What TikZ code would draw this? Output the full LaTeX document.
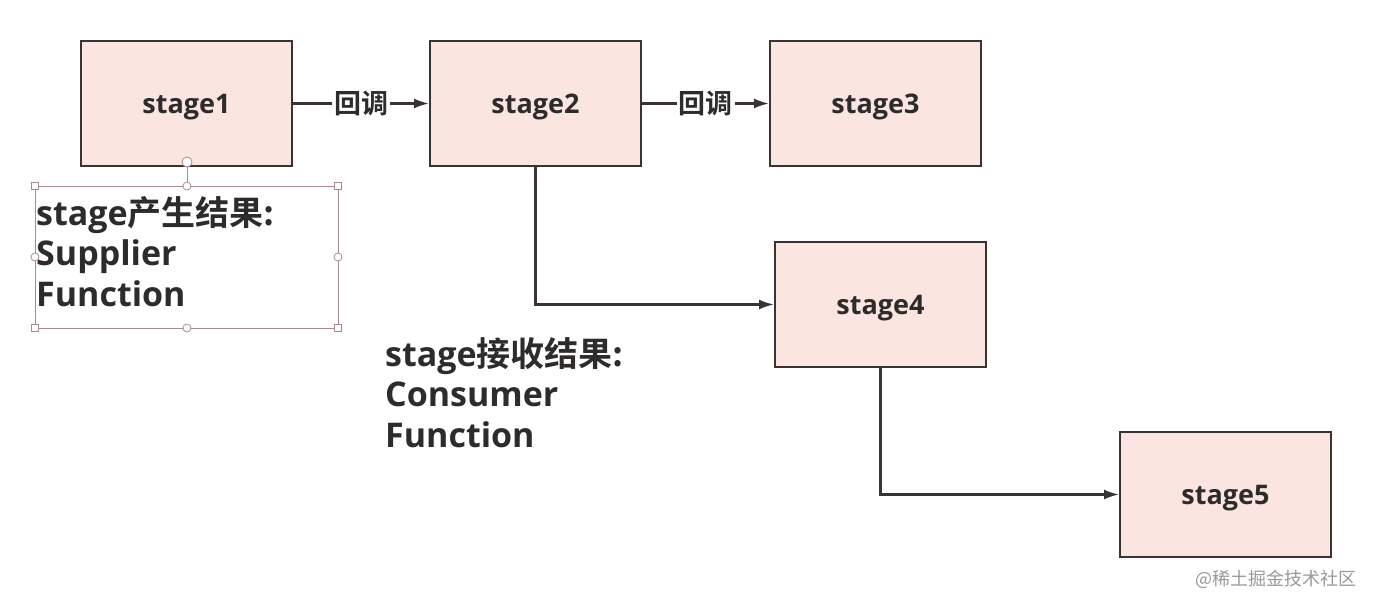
\documentclass[tikz,border=0pt]{standalone}
\usepackage{fontspec}
\setmainfont{Open Sans}
\newfontfamily\cjk{Noto Sans CJK SC}[BoldFont={Noto Sans CJK SC Bold}]
\usetikzlibrary{arrows.meta}
\definecolor{boxfill}{HTML}{FBE5E0}
\definecolor{boxline}{HTML}{3A3333}
\definecolor{txt}{HTML}{2E2B2B}
\definecolor{sel}{HTML}{A88A8E}
\tikzset{
  stagebox/.style={draw=boxline, line width=2pt, fill=boxfill, minimum width=211pt, minimum height=125pt, inner sep=0pt, text height=26pt, text depth=6.5pt, text=txt, font=\fontsize{27}{30}\selectfont\bfseries},
  conn/.style={draw=boxline, line width=2.2pt, -{Latex[length=15pt,width=10pt]}},
  lbl/.style={fill=white, inner sep=2pt, text=txt, font=\cjk\fontsize{27}{30}\selectfont\bfseries},
  note/.style={anchor=base west, inner sep=0pt, text=txt, font=\fontsize{34}{40}\selectfont\bfseries},
  sq/.style={draw=sel, fill=white, line width=0.8pt, minimum size=7pt, inner sep=0pt},
  ci/.style={draw=sel, fill=white, line width=0.8pt, circle, minimum size=8pt, inner sep=0pt}
}
\begin{document}
\begin{tikzpicture}[x=1pt,y=-1pt]
\useasboundingbox[fill=white] (0,0) rectangle (1374,608);
\node[stagebox] (s1) at (186.5,103.5) {stage1};
\node[stagebox] (s2) at (535.5,103.5) {stage2};
\node[stagebox] (s3) at (875.5,103.5) {stage3};
\node[stagebox] (s4) at (880.5,304.5) {stage4};
\node[stagebox] (s5) at (1225.5,494.5) {stage5};
\draw[conn] (s1.east) -- node[lbl] (l1) {回调} (s2.west);
\draw[conn] (s2.east) -- node[lbl] (l2) {回调} (s3.west);
\draw[conn] (s2.south) |- (s4.west);
\draw[conn] (s4.south) |- (s5.west);
% selection box
\coordinate (b1) at (35,186);
\coordinate (b2) at (338,328);
\draw[sel, line width=0.8pt] (b1) rectangle (b2);
\coordinate (rt) at (187,162);
\draw[sel, line width=1pt] (187,186) -- (rt);
\node[note] (n1a) at (36,225) {stage{\cjk 产生结果:}};
\node[note] (n1b) at (36,265) {Supplier};
\node[note] (n1c) at (36,306) {Function};
\node[sq] (h1) at (35,186) {};
\node[sq] (h2) at (338,186) {};
\node[sq] (h3) at (35,328) {};
\node[sq] (h4) at (338,328) {};
\node[ci] (h5) at (187,186) {};
\node[ci] (h6) at (187,328) {};
\node[ci] (h7) at (35,257) {};
\node[ci] (h8) at (338,257) {};
\node[ci, minimum size=10pt] (h9) at (rt) {};
\node[note] (n2a) at (385,366) {stage{\cjk 接收结果:}};
\node[note] (n2b) at (385,406) {Consumer};
\node[note] (n2c) at (385,447) {Function};
\node[anchor=east, inner sep=0pt, text=black!40, font=\cjk\fontsize{18}{20}\selectfont] (wm) at (1357,579) {@稀土掘金技术社区};
\end{tikzpicture}
\end{document}
